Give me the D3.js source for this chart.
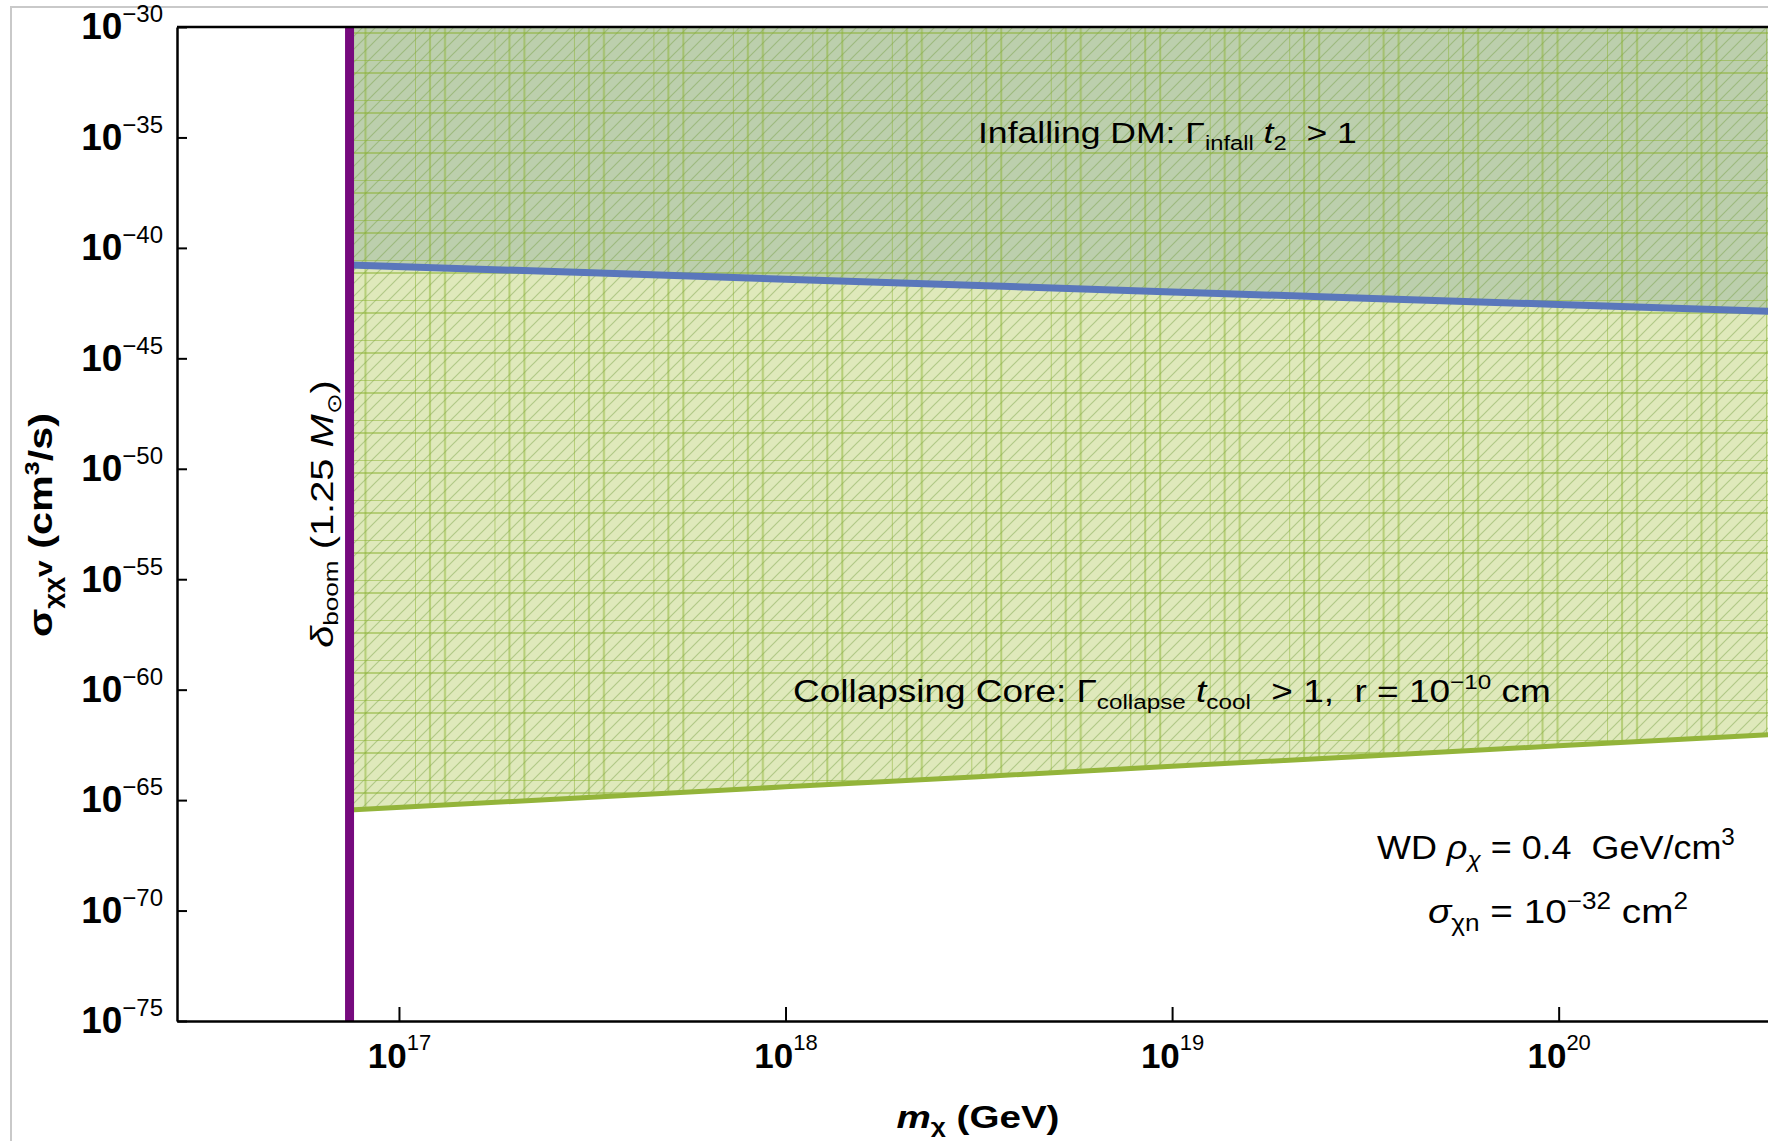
<!DOCTYPE html>
<html>
<head>
<meta charset="utf-8">
<script src="https://cdn.jsdelivr.net/npm/d3@7"></script>
<style>
  body { margin: 0; background: #fff; }
  svg { display: block; }
  text { white-space: pre; }
</style>
</head>
<body>
<svg id="chart" width="1768" height="1141"></svg>
<script>
// Dark-matter mass grid (GeV) on which both boundaries are sampled
const massGeV = [7.45e16, 3.16e17, 1e18, 3.16e18, 1e19, 3.16e19, 1e20, 3.72e20];
// Infalling DM: Γ_infall t_2 > 1 above this σv (cm^3/s)
const infallBound = [1.70e-41, 7.41e-42, 3.80e-42, 2.00e-42, 1.02e-42, 5.25e-43, 2.75e-43, 1.29e-43];
// Collapsing core: Γ_collapse t_cool > 1 above this σv (cm^3/s)
const collapseBound = [3.55e-66, 1.35e-65, 3.98e-65, 1.15e-64, 3.39e-64, 9.77e-64, 2.88e-63, 9.77e-63];
// δ_boom mass for a 1.25 M_sun white dwarf (GeV)
const boomMass = 7.45e16;
// Tick exponents
const xTickExp = [17, 18, 19, 20];
const yTickExp = [-30, -35, -40, -45, -50, -55, -60, -65, -70, -75];

const FONT = "'Liberation Sans', Arial, Helvetica, sans-serif";
const svg = d3.select("#chart");

const plot = { left: 177, right: 1779, top: 27, bottom: 1021 };
const x = d3.scaleLog().domain([Math.pow(10, 16.4258), Math.pow(10, 20.57)]).range([plot.left, plot.right]);
const y = d3.scaleLog().domain([1e-75, 1e-30]).range([plot.bottom, plot.top]);

// outer frame of the figure
svg.append("rect").attr("x", 11).attr("y", 7).attr("width", 1800).attr("height", 1200)
  .attr("fill", "none").attr("stroke", "#c9c9c9").attr("stroke-width", 2);

const defs = svg.append("defs");
defs.append("clipPath").attr("id", "plotClip").append("rect")
  .attr("x", plot.left).attr("y", plot.top)
  .attr("width", plot.right - plot.left).attr("height", plot.bottom - plot.top);

// mesh pattern of the excluded region
const grid = defs.append("pattern").attr("id", "mesh").attr("patternUnits", "userSpaceOnUse")
  .attr("x", 415).attr("y", 20).attr("width", 79.47).attr("height", 40);
[0, 15, 30].forEach(v => grid.append("rect").attr("x", v - 1).attr("y", 0).attr("width", 2).attr("height", 40).attr("fill", "rgba(138,178,48,0.5)"));
[0, 13].forEach(h => grid.append("rect").attr("x", 0).attr("y", h - 1).attr("width", 79.47).attr("height", 2).attr("fill", "rgba(138,178,48,0.5)"));

const hs = 13;
const hatch = defs.append("pattern").attr("id", "diag").attr("patternUnits", "userSpaceOnUse")
  .attr("width", hs).attr("height", hs);
hatch.append("path")
  .attr("d", `M0,${hs} L${hs},0 M${-hs/2},${hs/2} L${hs/2},${-hs/2} M${hs/2},${hs*1.5} L${hs*1.5},${hs/2}`)
  .attr("stroke", "rgba(120,160,70,0.45)").attr("stroke-width", 1.2);

const rows = massGeV.map((m, i) => ({ m, hi: infallBound[i], lo: collapseBound[i] }));
const topY = y.range()[1];

const region = svg.append("g").attr("clip-path", "url(#plotClip)");
const areaLo = d3.area().x(d => x(d.m)).y0(topY).y1(d => y(d.lo));
const areaHi = d3.area().x(d => x(d.m)).y0(topY).y1(d => y(d.hi));

region.append("path").datum(rows).attr("d", areaLo).attr("fill", "#dfe9bb");
region.append("path").datum(rows).attr("d", areaHi).attr("fill", "#bccfad");
region.append("path").datum(rows).attr("d", areaLo).attr("fill", "url(#diag)");
region.append("path").datum(rows).attr("d", areaLo).attr("fill", "url(#mesh)");

region.append("path").datum(rows)
  .attr("d", d3.line().x(d => x(d.m)).y(d => y(d.lo)))
  .attr("fill", "none").attr("stroke", "#93b43a").attr("stroke-width", 5);
region.append("path").datum(rows)
  .attr("d", d3.line().x(d => x(d.m)).y(d => y(d.hi)))
  .attr("fill", "none").attr("stroke", "#5a77bb").attr("stroke-width", 7);

// δ_boom line
svg.append("line")
  .attr("x1", x(boomMass)).attr("x2", x(boomMass))
  .attr("y1", y(1e-75)).attr("y2", y(1e-30))
  .attr("stroke", "#760a7e").attr("stroke-width", 9);

// top frame
svg.append("line").attr("x1", plot.left).attr("x2", plot.right)
  .attr("y1", plot.top).attr("y2", plot.top)
  .attr("stroke", "#000").attr("stroke-width", 2.5);

// axes
const yAxis = d3.axisLeft(y)
  .tickValues(yTickExp.map(e => Math.pow(10, e)))
  .tickSizeInner(-10).tickSizeOuter(0).tickPadding(14);
const gy = svg.append("g").attr("transform", `translate(${plot.left},0)`).call(yAxis);
gy.attr("font-family", FONT).attr("font-size", 37).attr("font-weight", "bold");
gy.select(".domain").attr("stroke-width", 2.5);
gy.selectAll(".tick line").attr("stroke-width", 2);
gy.selectAll(".tick text").each(function(d) {
  const t = d3.select(this).text(null).attr("fill", "#000");
  t.append("tspan").text("10");
  t.append("tspan").attr("dy", -17).attr("font-size", 24).attr("font-weight", "normal")
    .text("\u2212" + Math.abs(Math.round(Math.log10(d))));
});

const xAxis = d3.axisBottom(x)
  .tickValues(xTickExp.map(e => Math.pow(10, e)))
  .tickSizeInner(-14).tickSizeOuter(0).tickPadding(22);
const gx = svg.append("g").attr("transform", `translate(0,${plot.bottom})`).call(xAxis);
gx.attr("font-family", FONT).attr("font-size", 35).attr("font-weight", "bold");
gx.select(".domain").attr("stroke-width", 2.5);
gx.selectAll(".tick line").attr("stroke-width", 2);
gx.selectAll(".tick text").each(function(d) {
  const t = d3.select(this).text(null).attr("fill", "#000");
  t.append("tspan").text("10");
  t.append("tspan").attr("dy", -18).attr("font-size", 22).attr("font-weight", "normal")
    .text(Math.round(Math.log10(d)));
});

// rich text: segments with size / raise / style
function richText(parent, segs, opts) {
  const t = parent.append("text")
    .attr("font-family", FONT).attr("font-size", opts.size)
    .attr("font-weight", opts.weight || "normal")
    .attr("text-anchor", opts.anchor || "start").attr("fill", "#000");
  let cur = 0;
  segs.forEach(s => {
    const ts = t.append("tspan").text(s.t);
    const raise = s.raise || 0;
    ts.attr("dy", cur - raise);
    cur = raise;
    if (s.size) ts.attr("font-size", s.size);
    if (s.italic) ts.attr("font-style", "italic");
    if (s.weight) ts.attr("font-weight", s.weight);
  });
  return t;
}
// a label placed at (px,py), rotated, and spread to a given span along its baseline
function label(segs, opts) {
  const g = svg.append("g");
  const t = richText(g, segs, opts);
  const w = t.node().getBBox().width;
  const k = opts.span ? opts.span / w : 1;
  g.attr("transform", `translate(${opts.px},${opts.py}) rotate(${opts.rotate || 0}) scale(${k},1)`);
  return g;
}

label([
  { t: "Infalling DM: \u0393" },
  { t: "infall", size: 20, raise: -7 },
  { t: " t", italic: true },
  { t: "2", size: 20, raise: -7 },
  { t: "  > 1" }
], { size: 30, px: 978, py: 143, span: 379 });

label([
  { t: "Collapsing Core: \u0393" },
  { t: "collapse", size: 21, raise: -7 },
  { t: " t", italic: true },
  { t: "cool", size: 21, raise: -7 },
  { t: "  > 1,  r = 10" },
  { t: "\u221210", size: 21, raise: 13 },
  { t: " cm" }
], { size: 32, px: 793, py: 702, span: 758 });

label([
  { t: "WD " },
  { t: "\u03c1", italic: true },
  { t: "\u03c7", size: 23, italic: true, raise: -8 },
  { t: " = 0.4  GeV/cm" },
  { t: "3", size: 23, raise: 14 }
], { size: 34, px: 1377, py: 859, span: 358 });

label([
  { t: "\u03c3", italic: true },
  { t: "\u03c7n", size: 23, raise: -8 },
  { t: " = 10" },
  { t: "\u221232", size: 23, raise: 14 },
  { t: " cm" },
  { t: "2", size: 23, raise: 14 }
], { size: 34, px: 1428, py: 923, span: 260 });

label([
  { t: "\u03b4", italic: true },
  { t: "boom", size: 21, raise: -5 },
  { t: " (1.25 " },
  { t: "M", italic: true },
  { t: "\u2299", size: 20, raise: -8 },
  { t: ")" }
], { size: 32, px: 333, py: 514, rotate: -90, anchor: "middle", span: 268 });

label([
  { t: "\u03c3" },
  { t: "\u03c7\u03c7", size: 22, raise: -8 },
  { t: "v", size: 24 },
  { t: " (cm" },
  { t: "3", size: 20, raise: 13 },
  { t: "/s)" }
], { size: 33, weight: "bold", px: 52, py: 525, rotate: -90, anchor: "middle", span: 224 });

label([
  { t: "m", italic: true },
  { t: "\u03c7", size: 21, raise: -5 },
  { t: " (GeV)" }
], { size: 31, weight: "bold", px: 978, py: 1128, anchor: "middle", span: 163 });
</script>
</body>
</html>
